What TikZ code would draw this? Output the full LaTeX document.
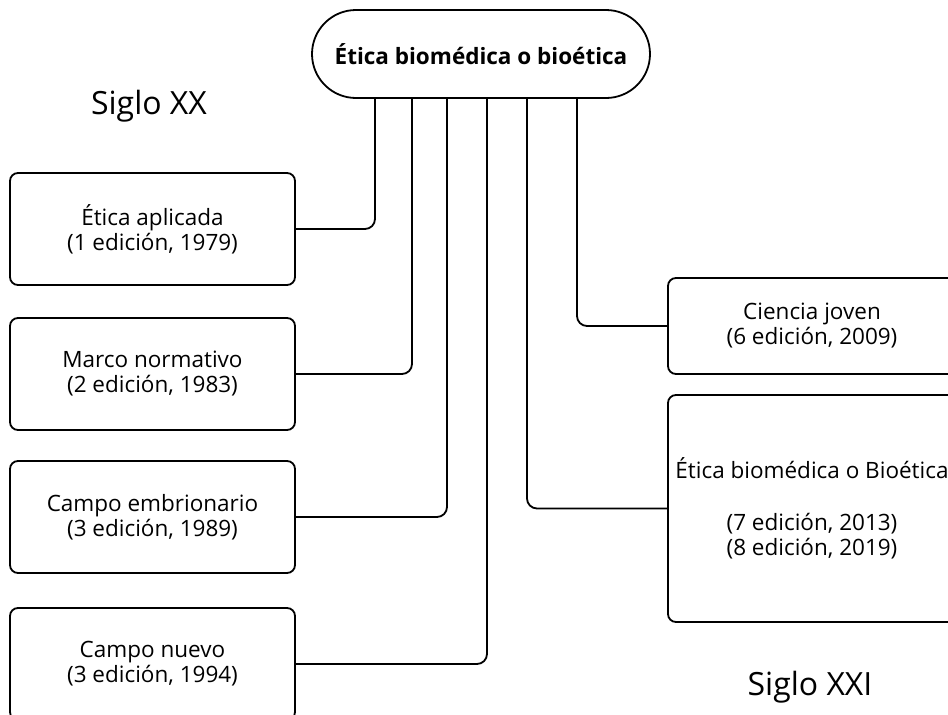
\documentclass[tikz,border=0pt]{standalone}
\usepackage{fontspec}
\setmainfont{Open Sans}
\begin{document}
\begin{tikzpicture}[x=1pt,y=-1pt,
  box/.style={draw, line width=1.8pt, rounded corners=8pt, align=center,
    font=\fontsize{22.5}{25}\selectfont, inner sep=0pt, minimum width=285pt},
  conn/.style={line width=1.8pt, rounded corners=10pt},
  siglo/.style={font=\fontsize{32}{36}\selectfont}]
\useasboundingbox (0,0) rectangle (948,715);
\clip (0,0) rectangle (948,715);
\node[draw, line width=1.8pt, rounded corners=44pt, minimum width=338pt, minimum height=88pt,
  font=\bfseries\fontsize{22.5}{26}\selectfont] (top) at (481,54) {Ética biomédica o bioética};
\node[box, minimum height=112pt] (b1) at (152.5,229) {Ética aplicada\\(1 edición, 1979)};
\node[box, minimum height=112pt] (b2) at (152.5,374) {Marco normativo\\(2 edición, 1983)};
\node[box, minimum height=112pt] (b3) at (152.5,517) {Campo embrionario\\(3 edición, 1989)};
\node[box, minimum height=112pt] (b4) at (152.5,664) {Campo nuevo\\(3 edición, 1994)};
\node[box, minimum height=96pt, minimum width=288pt] (b5) at (812,326) {Ciencia joven\\(6 edición, 2009)};
\node[box, minimum height=227pt, minimum width=288pt] (b6) at (812,508.5) {Ética biomédica o Bioética\\[27pt](7 edición, 2013)\\(8 edición, 2019)};
\draw[conn] (b1.east) -| ([xshift=-106pt]top.south);
\draw[conn] (b2.east) -| ([xshift=-69pt]top.south);
\draw[conn] (b3.east) -| ([xshift=-34pt]top.south);
\draw[conn] (b4.east) -| ([xshift=6pt]top.south);
\draw[conn] (b6.west) -| ([xshift=46pt]top.south);
\draw[conn] (b5.west) -| ([xshift=96pt]top.south);
\node[siglo] (s20) at (149,106) {Siglo XX};
\node[siglo] (s21) at (810,687) {Siglo XXI};
\end{tikzpicture}
\end{document}
